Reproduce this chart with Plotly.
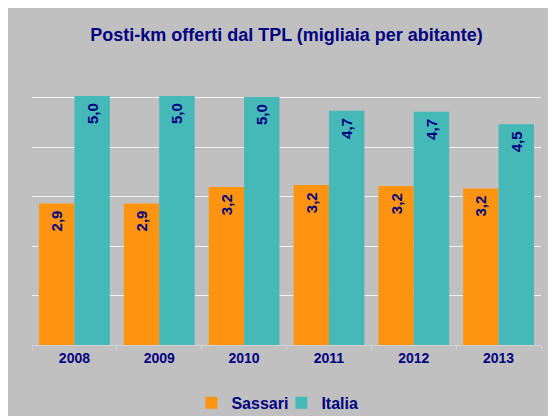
import plotly.graph_objects as go

years = ["2008", "2009", "2010", "2011", "2012", "2013"]
sassari = [2.86, 2.86, 3.19, 3.23, 3.21, 3.16]
italia = [5.03, 5.03, 5.01, 4.73, 4.71, 4.46]

NAVY = "#000080"
FONT = "Liberation Sans, Arial, sans-serif"

fig = go.Figure()
for name, vals, col in [("Sassari", sassari, "#FF9410"), ("Italia", italia, "#45B8B8")]:
    fig.add_trace(go.Bar(
        name=name, x=years, y=vals, marker=dict(color=col, line=dict(width=0)),
        texttemplate="%{y:.1f}\u00a0", textposition="inside", insidetextanchor="end",
        textangle=-90, constraintext="none",
        textfont=dict(family=FONT, size=15, color=NAVY, weight="bold"),
    ))

fig.update_layout(
    width=548, height=408,
    margin=dict(l=24, r=15, t=40, b=71, autoexpand=False),
    paper_bgcolor="#C0C0C0", plot_bgcolor="#C0C0C0",
    separators=",.",
    barmode="group", bargap=0.165, bargroupgap=0,
    font=dict(family=FONT, color=NAVY),
    title=dict(text="Posti-km offerti dal TPL (migliaia per abitante)",
               x=0.5, xref="paper", xanchor="center",
               y=1 - 27 / 408, yanchor="middle",
               font=dict(family=FONT, size=18, color=NAVY, weight="bold")),
    legend=dict(orientation="h", x=0.49, xanchor="center", y=-0.195, yanchor="middle",
                font=dict(family=FONT, size=16, color=NAVY, weight="bold"),
                bgcolor="rgba(0,0,0,0)", itemwidth=30, entrywidth=45,
                tracegroupgap=0),
    showlegend=True,
)
fig.update_xaxes(type="category", showgrid=False, ticks="outside", tickson="boundaries",
                 ticklen=4, tickcolor="#D4D4D4", showline=True, linecolor="#D4D4D4",
                 linewidth=1,
                 tickfont=dict(family=FONT, size=14, color=NAVY, weight="bold"))
fig.update_yaxes(range=[0, 6], dtick=1, showticklabels=False, showgrid=True,
                 gridcolor="#F2F2F2", gridwidth=1, zeroline=False, showline=False)

fig.write_html("out.html")
